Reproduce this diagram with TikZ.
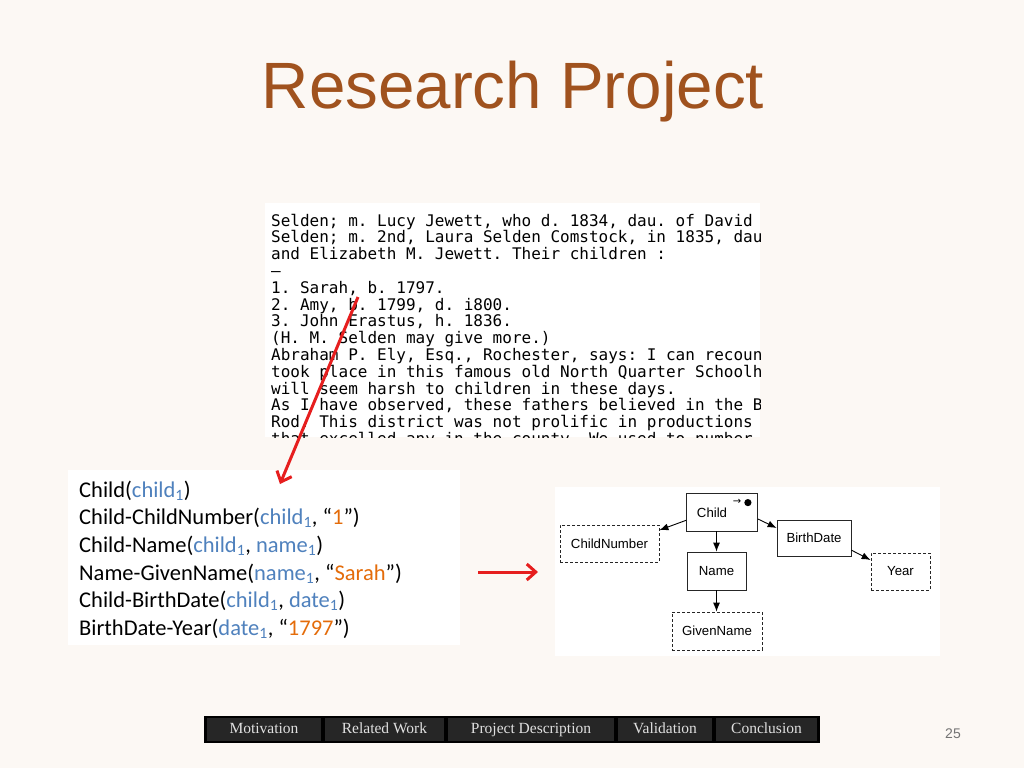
\documentclass[tikz,border=0pt]{standalone}
\usepackage{fontspec}
\setmainfont{Liberation Sans}
\newfontfamily\monofnt{DejaVu Sans Mono}
\newfontfamily\calfnt{Carlito}
\newfontfamily\navfnt{Liberation Serif}
\newfontfamily\symfnt{DejaVu Sans}
\usetikzlibrary{arrows.meta}
\definecolor{bg}{RGB}{252,248,244}
\definecolor{titlec}{RGB}{160,82,30}
\definecolor{predblue}{RGB}{79,129,189}
\definecolor{predorange}{RGB}{228,108,10}
\definecolor{redarrow}{RGB}{230,30,30}
\definecolor{navfill}{RGB}{38,38,38}
\tikzset{
  monoline/.style={anchor=base west, inner sep=0pt, font=\monofnt\fontsize{16}{17}\selectfont\frenchspacing},
  predline/.style={anchor=base west, inner sep=0pt, font=\calfnt\fontsize{22.5}{26}\selectfont},
  ent/.style={draw=black!85, line width=0.8pt, inner sep=0pt, font=\fontsize{13.2}{15}\selectfont},
  lex/.style={ent, dashed, dash pattern=on 3pt off 2pt},
  rel/.style={line width=0.9pt, -{Latex[length=9pt,width=7pt]}},
  redarr/.style={draw=redarrow, line width=3pt, -{Straight Barb[length=9pt,width=16pt,line width=3pt]}},
  navcell/.style={fill=navfill, draw=black, line width=2pt, inner sep=0pt, text=black!12, text height=10.5pt, text depth=3.5pt, font=\navfnt\fontsize{15.5}{17}\selectfont},
}
\newcommand{\bl}[1]{\textcolor{predblue}{#1}}
\newcommand{\og}[1]{\textcolor{predorange}{#1}}
\begin{document}
\begin{tikzpicture}[x=1pt,y=-1pt]
\fill[bg] (0,0) rectangle (1024,768);
\useasboundingbox (0,0) rectangle (1024,768);

% title
\node[text=titlec, font=\fontsize{65.5}{70}\selectfont, anchor=base, inner sep=0pt] (title) at (513,108) {Research Project};

% scanned text image
\fill[white] (265,203) rectangle (760,437);
\begin{scope}
\clip (265,203) rectangle (760,437);
\node[monoline] (l1) at (271,226.0) {Selden; m. Lucy Jewett, who d. 1834, dau. of David};
\node[monoline] (l2) at (271,242.8) {Selden; m. 2nd, Laura Selden Comstock, in 1835, dau};
\node[monoline] (l3) at (271,259.6) {and Elizabeth M. Jewett. Their children :};
\node[monoline] (l4) at (271,276.4) {–};
\node[monoline] (l5) at (271,293.2) {1. Sarah, b. 1797.};
\node[monoline] (l6) at (271,310.0) {2. Amy, b. 1799, d. i800.};
\node[monoline] (l7) at (271,326.8) {3. John Erastus, h. 1836.};
\node[monoline] (l8) at (271,343.6) {(H. M. Selden may give more.)};
\node[monoline] (l9) at (271,360.4) {Abraham P. Ely, Esq., Rochester, says: I can recount};
\node[monoline] (l10) at (271,377.2) {took place in this famous old North Quarter Schoolhouse};
\node[monoline] (l11) at (271,394.0) {will seem harsh to children in these days.};
\node[monoline] (l12) at (271,410.8) {As I have observed, these fathers believed in the Birch};
\node[monoline] (l13) at (271,427.6) {Rod. This district was not prolific in productions};
\node[monoline] (l14) at (271,444.4) {that excelled any in the county. We used to number};
\end{scope}

% predicate box
\fill[white] (68,470) rectangle (460,645);
\node[predline] (p1) at (79,497) {Child(\bl{child\textsubscript{1}})};
\node[predline] (p2) at (79,524.7) {Child-ChildNumber(\bl{child\textsubscript{1}}, “\og{1}”)};
\node[predline] (p3) at (79,552.4) {Child-Name(\bl{child\textsubscript{1}}, \bl{name\textsubscript{1}})};
\node[predline] (p4) at (79,580.1) {Name-GivenName(\bl{name\textsubscript{1}}, “\og{Sarah}”)};
\node[predline] (p5) at (79,607.8) {Child-BirthDate(\bl{child\textsubscript{1}}, \bl{date\textsubscript{1}})};
\node[predline] (p6) at (79,635.5) {BirthDate-Year(\bl{date\textsubscript{1}}, “\og{1797}”)};

% red arrows
\coordinate (r1s) at (358,297);
\coordinate (r1e) at (280,484);
\draw[redarr] (r1s) -- (r1e);
\coordinate (r2s) at (478,572);
\coordinate (r2e) at (538,572);
\draw[redarr] (r2s) -- (r2e);

% model diagram
\fill[white] (555,487) rectangle (940,656);
\node[ent, minimum width=71pt, minimum height=38pt] (child) at (722,512) {};
\node[font=\fontsize{13.2}{15}\selectfont, inner sep=0pt] (childlbl) at (712,513) {Child};
\node[font=\symfnt\fontsize{10}{12}\selectfont, inner sep=0pt] (childmark) at (737,502) {→};
\fill (child.north east) ++(-10,10) circle (3.6pt);
\node[lex, minimum width=99pt, minimum height=37pt] (cnum) at (609.5,543.5) {ChildNumber};
\node[ent, minimum width=59pt, minimum height=38pt] (name) at (716.5,571) {Name};
\node[lex, minimum width=90pt, minimum height=38pt] (gname) at (717,631) {GivenName};
\node[ent, minimum width=74pt, minimum height=36pt] (bdate) at (814,538) {BirthDate};
\node[lex, minimum width=59pt, minimum height=37pt] (year) at (900.5,571.5) {Year};
\draw[rel] (child.193) -- (cnum.15);
\draw[rel] (name.north |- child.south) -- (name.north);
\draw[rel] (child.349) -- (bdate.165);
\draw[rel] (bdate.342) -- (year.159);
\draw[rel] (name.south) -- (gname.north -| name.south);

% navigation bar
\fill[black] (204,716) rectangle (820,743);
\node[navcell, minimum width=116pt, minimum height=25pt] (nav1) at (264,729.5) {Motivation};
\node[navcell, minimum width=121pt, minimum height=25pt] (nav2) at (384.5,729.5) {Related Work};
\node[navcell, minimum width=168pt, minimum height=25pt] (nav3) at (531,729.5) {Project Description};
\node[navcell, minimum width=96pt, minimum height=25pt] (nav4) at (665,729.5) {Validation};
\node[navcell, minimum width=103pt, minimum height=25pt] (nav5) at (766.5,729.5) {Conclusion};

% page number
\node[text=black!55, font=\fontsize{14}{16}\selectfont, inner sep=0pt] (pnum) at (953,734) {25};
\end{tikzpicture}
\end{document}
